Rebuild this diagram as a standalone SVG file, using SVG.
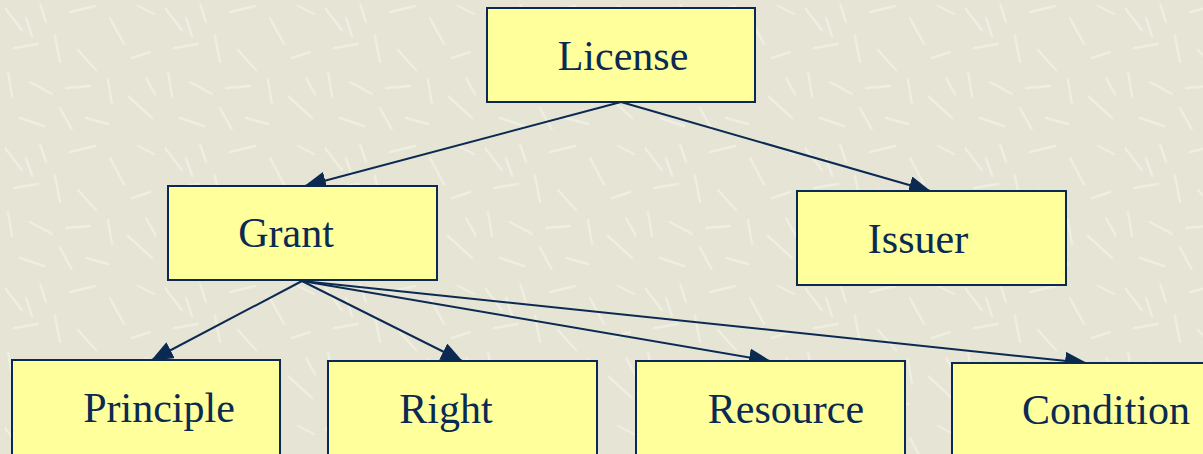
<svg xmlns="http://www.w3.org/2000/svg" width="1203" height="454" viewBox="0 0 1203 454">
  <defs>
    <style>
      .box { fill: #ffff9c; stroke: #0b2a52; stroke-width: 2; }
      .label { font-family: "Liberation Serif", "Times New Roman", serif; font-size: 42px; fill: #0b2a52; text-anchor: middle; }
      .edge { fill: none; stroke: #0b2a52; stroke-width: 2; marker-end: url(#arrow); }
      .streak { stroke: #f1f0e6; stroke-width: 2.4; stroke-linecap: round; opacity: 0.8; }
    </style>
    <marker id="arrow" viewBox="0 0 22 18" refX="21" refY="9" markerWidth="22" markerHeight="18" markerUnits="userSpaceOnUse" orient="auto">
      <path d="M0,0 L22,9 L0,18 Z" fill="#0b2a52"/>
    </marker>
    <filter id="soft" x="0" y="0" width="1" height="1">
      <feGaussianBlur stdDeviation="0.6"/>
    </filter>
    <!-- paper texture: light scattered streaks over a beige ground -->
    <pattern id="paper" width="160" height="140" patternUnits="userSpaceOnUse">
      <rect width="160" height="140" fill="#e5e4d5"/>
      <g class="streak" filter="url(#soft)">
        <line x1="5" y1="8" x2="22" y2="30"/>
        <line x1="40" y1="4" x2="46" y2="22"/>
        <line x1="70" y1="12" x2="95" y2="6"/>
        <line x1="110" y1="18" x2="124" y2="44"/>
        <line x1="138" y1="6" x2="154" y2="14"/>
        <line x1="14" y1="48" x2="38" y2="44"/>
        <line x1="55" y1="36" x2="60" y2="62"/>
        <line x1="78" y1="50" x2="96" y2="70"/>
        <line x1="132" y1="58" x2="150" y2="52"/>
        <line x1="8" y1="72" x2="12" y2="96"/>
        <line x1="30" y1="82" x2="52" y2="94"/>
        <line x1="66" y1="88" x2="90" y2="86"/>
        <line x1="108" y1="80" x2="112" y2="104"/>
        <line x1="128" y1="96" x2="152" y2="118"/>
        <line x1="20" y1="118" x2="44" y2="126"/>
        <line x1="60" y1="108" x2="72" y2="130"/>
        <line x1="86" y1="118" x2="108" y2="124"/>
        <line x1="26" y1="18" x2="32" y2="36"/>
        <line x1="146" y1="78" x2="156" y2="96"/>
      </g>
    </pattern>
  </defs>

  <rect width="1203" height="454" fill="url(#paper)"/>

  <g id="connectors">
    <line class="edge" x1="621" y1="102" x2="305" y2="186"/>
    <line class="edge" x1="621" y1="102" x2="930" y2="191"/>
    <line class="edge" x1="302" y1="281" x2="152" y2="360"/>
    <line class="edge" x1="302" y1="281" x2="462" y2="361"/>
    <line class="edge" x1="302" y1="281" x2="770" y2="361"/>
    <line class="edge" x1="302" y1="281" x2="1086" y2="363"/>
  </g>

  <g id="license">
    <rect class="box" x="487" y="8" width="268" height="94"/>
    <text class="label" x="623" y="70">License</text>
  </g>
  <g id="grant">
    <rect class="box" x="168" y="186" width="269" height="94"/>
    <text class="label" x="286" y="247">Grant</text>
  </g>
  <g id="issuer">
    <rect class="box" x="797" y="191" width="269" height="94"/>
    <text class="label" x="918" y="253">Issuer</text>
  </g>
  <g id="principle">
    <rect class="box" x="12" y="360" width="268" height="100"/>
    <text class="label" x="159" y="422">Principle</text>
  </g>
  <g id="right">
    <rect class="box" x="328" y="361" width="269" height="100"/>
    <text class="label" x="446" y="423">Right</text>
  </g>
  <g id="resource">
    <rect class="box" x="636" y="361" width="269" height="100"/>
    <text class="label" x="786" y="423">Resource</text>
  </g>
  <g id="condition">
    <rect class="box" x="952" y="363" width="268" height="100"/>
    <text class="label" x="1106" y="424">Condition</text>
  </g>
</svg>
